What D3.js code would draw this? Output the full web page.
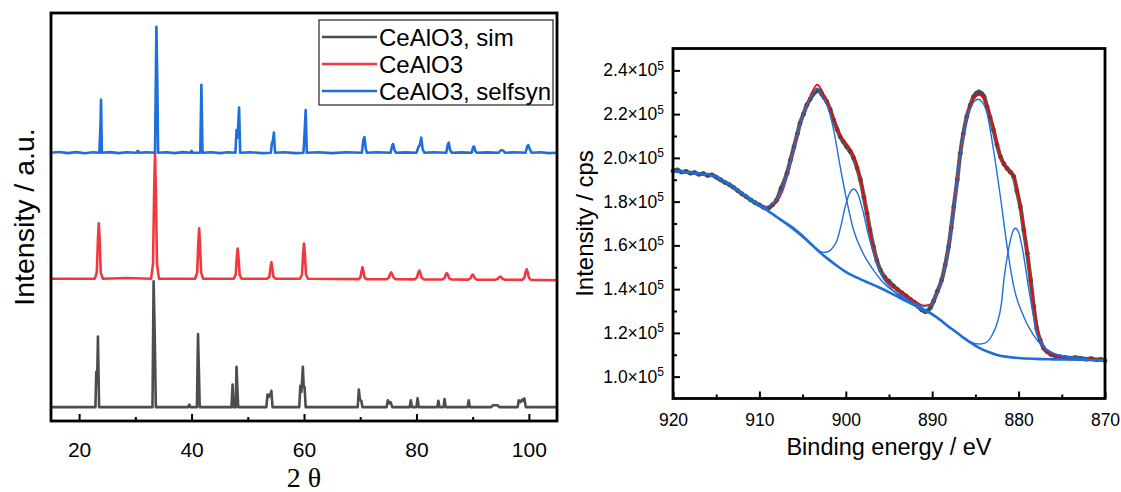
<!DOCTYPE html>
<html>
<head>
<meta charset="utf-8">
<script src="https://cdn.jsdelivr.net/npm/d3@7"></script>
<style>
  body { margin: 0; background: #fff; }
  svg { display: block; font-family: "Liberation Sans", Arial, sans-serif; }
</style>
</head>
<body>
<script>
// ---------- XRD data (2 theta, intensity normalised to the strongest peak) ----------
const xrdSim = [
  [15, 0], [22.9, 0], [23.05, 28], [23.2, 20], [23.35, 56], [23.55, 0],
  [33.05, 0], [33.25, 100], [33.45, 57], [33.65, 0],
  [39.4, 0], [39.6, 2], [39.8, 0],
  [40.95, 0], [41.15, 58], [41.3, 30], [41.45, 0],
  [47.1, 0], [47.3, 18], [47.5, 0], [47.85, 0], [48.0, 32], [48.15, 15], [48.3, 0],
  [53.3, 0], [53.5, 10], [53.7, 8], [53.85, 10], [54.0, 9], [54.2, 13], [54.4, 0],
  [59.15, 0], [59.35, 17], [59.55, 12], [59.8, 32], [59.95, 16], [60.1, 16], [60.3, 0],
  [69.55, 0], [69.75, 14], [69.95, 6], [70.2, 5], [70.4, 0],
  [74.7, 0], [74.9, 5.5], [75.2, 3], [75.4, 4], [75.7, 0],
  [78.8, 0], [79.0, 5.5], [79.2, 0], [80.0, 0], [80.2, 7], [80.4, 0],
  [83.7, 0], [83.9, 5], [84.1, 0], [84.8, 0], [85.0, 6.5], [85.2, 0],
  [89.1, 0], [89.3, 5.5], [89.5, 0],
  [93.3, 0], [93.6, 1.5], [94.4, 1.5], [94.8, 0],
  [98.0, 0], [98.2, 5.5], [98.5, 4], [98.8, 6], [99.0, 5], [99.2, 7], [99.45, 0],
  [105, 0]
];

const xrdCeAlO3 = [
  [15, 0], [22.8, 0], [23.15, 5], [23.35, 31], [23.5, 44], [23.65, 31], [23.85, 5], [24.2, 0],
  [28.5, 0.5], [32.8, 0], [33.15, 12], [33.35, 70], [33.5, 100], [33.65, 70], [33.85, 12], [34.2, 0],
  [40.65, 0], [41.0, 5], [41.2, 28], [41.35, 40], [41.5, 28], [41.7, 5], [42.05, 0],
  [47.5, 0], [47.85, 3], [48.05, 17], [48.2, 24], [48.35, 17], [48.55, 3], [48.9, 0],
  [53.5, 0], [53.85, 1.6], [54.05, 9], [54.2, 13], [54.35, 9], [54.55, 1.6], [54.9, 0],
  [59.3, 0], [59.65, 3.4], [59.85, 20], [60.0, 28], [60.15, 20], [60.35, 3.4], [60.7, 0],
  [69.7, -0.3], [70.05, 1.1], [70.25, 6.3], [70.4, 9], [70.55, 6.3], [70.75, 1.1], [71.1, -0.3],
  [74.7, -0.4], [75.1, 1], [75.3, 3.5], [75.5, 5], [75.7, 3.5], [75.9, 1], [76.3, -0.4],
  [79.7, -0.5], [80.1, 1], [80.3, 4.5], [80.5, 6.5], [80.7, 4.5], [80.9, 1], [81.3, -0.5],
  [84.6, -0.6], [85.0, 0.5], [85.2, 3], [85.4, 4.5], [85.6, 3], [85.8, 0.5], [86.2, -0.6],
  [89.2, -0.7], [89.6, 0.2], [89.8, 2.2], [90.0, 3.3], [90.2, 2.2], [90.4, 0.2], [90.8, -0.7],
  [94.0, -0.8], [94.5, 0], [94.7, 1], [94.9, 1.6], [95.1, 1], [95.3, 0], [95.8, -0.8],
  [98.8, -0.9], [99.2, 0.8], [99.4, 5], [99.6, 7.5], [99.8, 5], [100.0, 0.8], [100.4, -0.9],
  [105, -1.2]
];

const xrdSelfsyn = [
  [15, 0], [16.5, 0.6], [18, -0.3], [19.5, 0.5], [21, -0.4], [22.5, 0.4],
  [23.6, 0], [23.8, 22], [23.9, 42], [24.05, 0],
  [25.5, 0.5], [27, -0.3], [28.5, 0.4], [30.2, 0], [30.45, 1.5], [30.7, 0], [32, 0.4],
  [33.5, 0], [33.65, 60], [33.75, 100], [33.9, 58], [34.05, 0],
  [35.5, 0.4], [37, -0.3], [38.5, 0.5], [39.8, 0], [40.0, 1.5], [40.2, 0],
  [41.55, 0], [41.75, 54], [41.95, 0],
  [43.5, 0.4], [45, -0.3], [46.5, 0.4],
  [47.8, 0], [48.0, 18], [48.2, 12], [48.45, 36], [48.65, 0],
  [50.5, 0.4], [52.5, -0.3],
  [54.1, 0], [54.3, 8], [54.45, 9], [54.65, 16], [54.85, 0],
  [56.5, 0.4], [58.5, -0.3],
  [59.9, 0], [60.1, 15], [60.3, 34], [60.5, 0],
  [62.5, 0.4], [65, -0.3], [67.5, 0.4],
  [70.3, 0], [70.55, 10], [70.75, 12.5], [71.0, 3], [71.2, 0],
  [73, 0.4],
  [75.4, 0], [75.7, 6], [75.85, 7], [76.1, 2], [76.4, 0],
  [78, 0.3],
  [80.0, 0], [80.4, 5], [80.6, 6], [80.85, 12], [81.1, 3], [81.4, 0],
  [83, 0.4],
  [85.3, 0], [85.6, 7], [85.75, 8], [86.0, 2], [86.3, 0],
  [88, 0.3],
  [89.8, 0], [90.1, 4.5], [90.25, 5], [90.5, 1], [90.8, 0],
  [92.5, 0.3],
  [94.6, 0], [95.0, 2], [95.3, 2], [95.8, 0],
  [97.5, 0.4],
  [99.4, 0], [99.7, 5], [99.9, 6], [100.15, 3], [100.5, 0],
  [102, 0.4], [103.5, -0.3], [105, 0]
];

const xrdNames = ["CeAlO3, sim", "CeAlO3", "CeAlO3, selfsyn"];
const xrdOffsets = [0, 102, 202];
const xrdTicks = [20, 40, 60, 80, 100];
const xrdMinorTicks = [30, 50, 70, 90];

// ---------- XPS Ce 3d data (binding energy eV, intensity in 1e5 cps) ----------
const xpsMeasured = [
  [920, 1.94], [919.5, 1.945], [919, 1.935], [918.5, 1.938], [918, 1.93], [917.5, 1.933], [917, 1.925],
  [916.5, 1.928], [916, 1.92], [915.5, 1.922], [915, 1.912], [914.5, 1.9], [914, 1.888],
  [913.5, 1.878], [913, 1.865], [912.5, 1.85], [912, 1.835], [911.5, 1.822], [911, 1.808],
  [910.5, 1.795], [910, 1.785], [909.6, 1.775], [909.3, 1.77], [908.9, 1.772], [908.5, 1.785],
  [908, 1.807], [907.5, 1.86], [906.8, 1.93], [906.4, 1.99], [906, 2.05], [905.6, 2.11],
  [905.3, 2.158], [904.9, 2.2], [904.5, 2.242], [904.1, 2.27], [903.8, 2.29], [903.5, 2.302],
  [903.3, 2.31], [903.0, 2.305], [902.8, 2.292], [902.5, 2.275], [902.2, 2.257], [901.8, 2.22],
  [901.4, 2.173], [901.0, 2.13], [900.65, 2.097], [900.3, 2.075], [899.9, 2.051], [899.5, 2.03],
  [899.1, 2.0], [898.7, 1.955], [898.3, 1.899], [897.9, 1.82], [897.55, 1.747], [897.2, 1.67],
  [896.8, 1.594], [896.4, 1.53], [896, 1.487], [895.5, 1.455], [895, 1.435], [894.5, 1.415],
  [894, 1.398], [893.5, 1.383], [893, 1.368], [892.5, 1.352], [892, 1.338], [891.6, 1.32],
  [891.2, 1.305], [890.8, 1.297], [890.5, 1.302], [890.2, 1.315], [889.85, 1.345], [889.4, 1.39],
  [888.9, 1.442], [888.5, 1.51], [888.1, 1.594], [887.8, 1.68], [887.5, 1.777], [887.1, 1.9],
  [886.75, 2.021], [886.4, 2.11], [886, 2.188], [885.6, 2.24], [885.2, 2.28], [884.9, 2.295],
  [884.6, 2.302], [884.3, 2.295], [884.0, 2.28], [883.65, 2.234], [883.3, 2.185], [882.9, 2.127],
  [882.5, 2.06], [882.1, 2.005], [881.7, 1.972], [881.33, 1.952], [880.95, 1.935], [880.56, 1.914],
  [880.2, 1.85], [879.8, 1.777], [879.4, 1.67], [879, 1.564], [878.6, 1.44], [878.25, 1.32],
  [877.9, 1.22], [877.5, 1.167], [877.1, 1.13], [876.7, 1.114], [876.2, 1.1], [875.7, 1.094],
  [875.2, 1.091], [874.6, 1.088], [874, 1.085], [873.4, 1.087], [872.8, 1.083], [872.2, 1.08],
  [871.6, 1.082], [871, 1.077], [870.5, 1.079], [870, 1.073]
];

const xpsEnvelope = [
  [910, 1.785], [909.3, 1.775], [908.5, 1.785], [908, 1.8], [907.3, 1.85], [906.5, 1.96],
  [906, 2.04], [905.3, 2.15], [904.5, 2.245], [903.8, 2.31], [903.3, 2.335], [902.8, 2.31],
  [902.2, 2.26], [901.4, 2.18], [900.65, 2.105], [899.9, 2.065], [899.3, 2.03], [898.8, 1.98],
  [898.3, 1.9], [897.55, 1.745], [896.8, 1.58], [896, 1.48], [895, 1.425], [894, 1.395],
  [893, 1.37], [892, 1.345], [891, 1.325], [890.3, 1.33], [889.85, 1.345], [889.2, 1.4],
  [888.9, 1.44], [888.1, 1.594], [887.5, 1.777], [886.75, 2.021], [886, 2.185], [885.2, 2.27],
  [884.6, 2.288], [884.1, 2.275], [883.65, 2.24], [882.9, 2.135], [882.1, 2.01], [881.5, 1.96],
  [880.9, 1.935], [880.5, 1.91], [879.8, 1.78], [879, 1.57], [878.25, 1.33], [877.5, 1.17],
  [876.7, 1.115], [875.8, 1.095], [874.5, 1.087], [872, 1.08], [870, 1.076]
];

const xpsBackground = [
  [920, 1.942], [919.5, 1.936], [919, 1.94], [918.5, 1.932], [918, 1.935], [917.5, 1.928],
  [917, 1.93], [916.5, 1.924], [916, 1.926], [915.5, 1.918], [915, 1.916], [914.5, 1.9],
  [914, 1.892], [913, 1.866], [912, 1.838], [911, 1.81], [910, 1.783], [909, 1.758],
  [908, 1.73], [907, 1.702], [906, 1.673], [905, 1.64], [904, 1.604], [903, 1.568],
  [902, 1.536], [901, 1.506], [900, 1.479], [898, 1.44], [896, 1.405], [894.85, 1.383],
  [893, 1.345], [891, 1.305], [890.2, 1.289], [889, 1.257], [888.28, 1.234], [887, 1.197],
  [886.35, 1.177], [885, 1.142], [884.4, 1.128], [883, 1.106], [882.5, 1.099], [881, 1.089],
  [880, 1.085], [878, 1.081], [876, 1.079], [873, 1.077], [870, 1.074]
];

// fitted components, each drawn on top of the background
const xpsComp903 = [
  [910, 1.785], [909.3, 1.775], [908.5, 1.79], [908, 1.807], [907.3, 1.855], [906.5, 1.965],
  [906, 2.045], [905.3, 2.15], [904.5, 2.24], [903.8, 2.295], [903.3, 2.318], [902.8, 2.29],
  [902.2, 2.246], [901.4, 2.127], [900.65, 1.96], [899.9, 1.807], [899.1, 1.67], [898, 1.564],
  [896.8, 1.487], [895.3, 1.415], [894, 1.378], [892.5, 1.338], [891, 1.305]
];
const xpsComp899 = [
  [910, 1.785], [908, 1.73], [906, 1.68], [904.5, 1.628], [903.5, 1.59], [902.6, 1.568],
  [902, 1.572], [901.4, 1.595], [901, 1.625], [900.5, 1.7], [900.07, 1.777], [899.6, 1.835],
  [899.1, 1.858], [898.6, 1.835], [897.95, 1.747], [897.4, 1.65], [896.8, 1.564], [896.2, 1.495],
  [895.6, 1.445], [894.8, 1.405], [894, 1.375], [893, 1.348], [891, 1.305]
];
const xpsComp885 = [
  [894, 1.38], [893, 1.357], [892, 1.336], [891, 1.322], [890.3, 1.325], [889.85, 1.345],
  [889.2, 1.4], [888.9, 1.44], [888.1, 1.59], [887.5, 1.77], [886.75, 2.015], [886, 2.18],
  [885.2, 2.255], [884.7, 2.268], [884.2, 2.255], [883.65, 2.203], [882.9, 2.035], [882.1, 1.82],
  [881.33, 1.594], [880.56, 1.411], [879.4, 1.274], [877.86, 1.167], [875.9, 1.106],
  [874, 1.088], [872, 1.08]
];
const xpsComp880 = [
  [894, 1.375], [892, 1.33], [890, 1.288], [888, 1.226], [886.5, 1.18], [885.5, 1.158],
  [884.62, 1.149], [884, 1.152], [883.2, 1.18], [882.5, 1.243], [882, 1.33], [881.7, 1.442],
  [881.1, 1.594], [880.7, 1.66], [880.37, 1.678], [880, 1.66], [879.6, 1.594], [878.8, 1.396],
  [878.3, 1.28], [877.86, 1.198], [877.2, 1.15], [876.7, 1.122], [875.5, 1.1], [874.4, 1.091],
  [872, 1.082]
];

const xpsXTicks = [920, 910, 900, 890, 880, 870];
const xpsXMinorTicks = [915, 905, 895, 885, 875];
const xpsYTicks = [1.0, 1.2, 1.4, 1.6, 1.8, 2.0, 2.2, 2.4];
const xpsYMinorTicks = [1.1, 1.3, 1.5, 1.7, 1.9, 2.1, 2.3];

// ---------- layout ----------
const W = 1121, H = 492;
const left = { x0: 51, x1: 557, y0: 13, y1: 421 };
const right = { x0: 673, x1: 1105, y0: 48.5, y1: 398.5 };
const xrdColors = ["#4d4d4d", "#f0393e", "#1c6fdc"];
const blue = "#1f6fd9";

const svg = d3.select("body").append("svg")
  .attr("width", W)
  .attr("height", H);

// ===== left panel: XRD =====
const xX = d3.scaleLinear().domain([15, 105]).range([left.x0, left.x1]);
const yX = d3.scaleLinear().domain([-11, 313]).range([left.y1, left.y0]);

const xrdSeries = [xrdSim, xrdCeAlO3, xrdSelfsyn];
xrdSeries.forEach((s, i) => {
  svg.append("path")
    .datum(s)
    .attr("fill", "none")
    .attr("stroke", xrdColors[i])
    .attr("stroke-width", 2.6)
    .attr("stroke-linejoin", "round")
    .attr("d", d3.line()
      .x(d => xX(d[0]))
      .y(d => yX(d[1] + xrdOffsets[i])));
});

// bottom axis, ticks pointing inwards
svg.append("g")
  .attr("transform", `translate(0,${left.y1})`)
  .call(d3.axisBottom(xX).tickValues(xrdTicks).tickSizeInner(-7).tickSizeOuter(0).tickPadding(21))
  .call(g => g.select(".domain").remove())
  .call(g => g.selectAll("line").attr("stroke-width", 2))
  .call(g => g.selectAll("text").attr("font-size", 21).attr("fill", "#000")
    .attr("font-family", "Liberation Sans, Arial, sans-serif"));
svg.append("g")
  .attr("transform", `translate(0,${left.y1})`)
  .call(d3.axisBottom(xX).tickValues(xrdMinorTicks).tickSizeInner(-4).tickSizeOuter(0).tickFormat(""))
  .call(g => g.select(".domain").remove())
  .call(g => g.selectAll("line").attr("stroke-width", 2));

svg.append("rect")
  .attr("x", left.x0).attr("y", left.y0)
  .attr("width", left.x1 - left.x0).attr("height", left.y1 - left.y0)
  .attr("fill", "none").attr("stroke", "#000").attr("stroke-width", 2.8);

svg.append("text")
  .attr("transform", `translate(24,${(left.y0 + left.y1) / 2}) rotate(-90)`)
  .attr("text-anchor", "middle")
  .attr("dy", "0.35em")
  .attr("font-size", 28.5)
  .text("Intensity / a.u.");

svg.append("text")
  .attr("x", (left.x0 + left.x1) / 2)
  .attr("y", 487)
  .attr("text-anchor", "middle")
  .attr("font-family", "Liberation Serif, Times New Roman, serif")
  .attr("font-size", 28)
  .text("2 θ");

// legend
const legend = svg.append("g").attr("transform", "translate(319,20)");
legend.append("rect")
  .attr("width", 234).attr("height", 85)
  .attr("fill", "#fff").attr("stroke", "#222").attr("stroke-width", 1.2);
xrdNames.forEach((name, i) => {
  const yy = 17 + i * 27;
  legend.append("line")
    .attr("x1", 3).attr("x2", 58).attr("y1", yy).attr("y2", yy)
    .attr("stroke", xrdColors[i]).attr("stroke-width", 2.6);
  legend.append("text")
    .attr("x", 60).attr("y", yy).attr("dy", "0.36em")
    .attr("font-size", 24)
    .text(name);
});

// ===== right panel: XPS =====
const xP = d3.scaleLinear().domain([920, 870]).range([right.x0, right.x1]);
const yP = d3.scaleLinear().domain([0.9, 2.5]).range([right.y1, right.y0]);
const lineP = d3.line().x(d => xP(d[0])).y(d => yP(d[1])).curve(d3.curveMonotoneX);

// measured points: dense grey band
svg.append("path")
  .datum(xpsMeasured)
  .attr("fill", "none").attr("stroke", "#5a5a5a").attr("stroke-width", 4.2)
  .attr("stroke-linejoin", "round").attr("d", lineP);
svg.append("g").selectAll("circle")
  .data(xpsMeasured)
  .join("circle")
  .attr("cx", d => xP(d[0]))
  .attr("cy", d => yP(d[1]))
  .attr("r", 2.4)
  .attr("fill", "#4a4a4a");

svg.append("path")
  .datum(xpsEnvelope)
  .attr("fill", "none").attr("stroke", "#ff0000").attr("stroke-width", 1.6)
  .attr("d", lineP);

[xpsComp903, xpsComp899, xpsComp885, xpsComp880].forEach(c => {
  svg.append("path")
    .datum(c)
    .attr("fill", "none").attr("stroke", blue).attr("stroke-width", 1.4)
    .attr("d", lineP);
});

svg.append("path")
  .datum(xpsBackground)
  .attr("fill", "none").attr("stroke", blue).attr("stroke-width", 2.6)
  .attr("stroke-linejoin", "round")
  .attr("d", lineP);

// axes
svg.append("g")
  .attr("transform", `translate(0,${right.y1})`)
  .call(d3.axisBottom(xP).tickValues(xpsXTicks).tickSizeInner(-7).tickSizeOuter(0).tickPadding(15))
  .call(g => g.select(".domain").remove())
  .call(g => g.selectAll("line").attr("stroke-width", 2))
  .call(g => g.selectAll("text").attr("font-size", 17.5).attr("fill", "#000")
    .attr("font-family", "Liberation Sans, Arial, sans-serif"));
svg.append("g")
  .attr("transform", `translate(0,${right.y1})`)
  .call(d3.axisBottom(xP).tickValues(xpsXMinorTicks).tickSizeInner(-4).tickSizeOuter(0).tickFormat(""))
  .call(g => g.select(".domain").remove())
  .call(g => g.selectAll("line").attr("stroke-width", 2));

svg.append("g")
  .attr("transform", `translate(${right.x0},0)`)
  .call(d3.axisLeft(yP).tickValues(xpsYTicks).tickSizeInner(-7).tickSizeOuter(0).tickPadding(9))
  .call(g => g.select(".domain").remove())
  .call(g => g.selectAll("line").attr("stroke-width", 2))
  .call(g => g.selectAll("text")
    .attr("font-size", 17.5).attr("fill", "#000")
    .attr("font-family", "Liberation Sans, Arial, sans-serif")
    .text(null)
    .each(function (d) {
      const t = d3.select(this);
      t.append("tspan").text(d.toFixed(1) + "×10");
      t.append("tspan").attr("dy", "-0.55em").attr("font-size", 12).text("5");
    }));
svg.append("g")
  .attr("transform", `translate(${right.x0},0)`)
  .call(d3.axisLeft(yP).tickValues(xpsYMinorTicks).tickSizeInner(-4).tickSizeOuter(0).tickFormat(""))
  .call(g => g.select(".domain").remove())
  .call(g => g.selectAll("line").attr("stroke-width", 2));

svg.append("rect")
  .attr("x", right.x0).attr("y", right.y0)
  .attr("width", right.x1 - right.x0).attr("height", right.y1 - right.y0)
  .attr("fill", "none").attr("stroke", "#000").attr("stroke-width", 2.8);

svg.append("text")
  .attr("transform", `translate(585,${(right.y0 + right.y1) / 2}) rotate(-90)`)
  .attr("text-anchor", "middle")
  .attr("dy", "0.35em")
  .attr("font-size", 24)
  .text("Intensity / cps");

svg.append("text")
  .attr("x", (right.x0 + right.x1) / 2)
  .attr("y", 455)
  .attr("text-anchor", "middle")
  .attr("font-size", 23.5)
  .text("Binding energy / eV");
</script>
</body>
</html>
